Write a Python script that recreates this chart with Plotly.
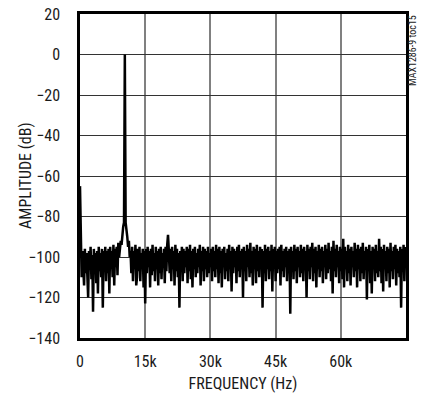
import plotly.graph_objects as go

bin_hz = 187.5
amplitude_db = [
    -65, -99, -110, -97, -107, -114, -96, -108, -98, -112, -120, -97, -106, -95, -111, -99, -127, -96, -108, -98,
    -113, -97, -118, -95, -107, -98, -110, -96, -125, -97, -105, -95, -112, -97, -108, -96, -118, -95, -106, -97,
    -110, -94, -114, -96, -105, -95, -109, -93, -100, -96, -92, -94, -88, -85, -83, 0, -83, -86, -90, -95,
    -92, -100, -97, -108, -95, -112, -97, -106, -94, -114, -110, -96, -107, -95, -112, -98, -105, -96, -115, -97,
    -123, -96, -108, -95, -105, -97, -115, -96, -109, -94, -107, -98, -112, -95, -106, -97, -114, -96, -108, -95,
    -111, -98, -105, -96, -113, -95, -107, -94, -89, -97, -108, -96, -112, -95, -106, -97, -114, -94, -107, -96,
    -110, -98, -125, -97, -106, -95, -112, -96, -108, -97, -105, -95, -113, -96, -107, -94, -111, -97, -115, -96,
    -106, -95, -110, -98, -108, -96, -105, -94, -114, -97, -107, -95, -112, -96, -106, -97, -110, -95, -108, -98,
    -105, -96, -112, -95, -107, -97, -110, -94, -106, -96, -113, -95, -108, -97, -115, -96, -105, -95, -111, -98,
    -107, -96, -112, -94, -106, -97, -117, -95, -108, -96, -105, -97, -113, -95, -107, -94, -110, -97, -106, -96,
    -120, -95, -107, -97, -112, -94, -105, -96, -110, -93, -108, -97, -114, -95, -106, -96, -113, -94, -107, -97,
    -110, -95, -105, -96, -125, -97, -108, -94, -112, -96, -106, -95, -111, -97, -107, -94, -117, -96, -105, -95,
    -112, -97, -108, -96, -106, -95, -114, -94, -107, -97, -110, -96, -105, -95, -112, -97, -108, -96, -128, -95,
    -106, -97, -111, -94, -107, -96, -113, -95, -105, -97, -110, -94, -108, -96, -112, -95, -106, -97, -120, -94,
    -107, -96, -111, -95, -105, -93, -112, -96, -108, -95, -115, -97, -106, -94, -110, -96, -107, -95, -113, -97,
    -105, -94, -111, -96, -108, -93, -106, -97, -112, -95, -118, -92, -107, -96, -110, -94, -105, -97, -113, -95,
    -107, -96, -111, -91, -115, -95, -106, -97, -112, -94, -108, -96, -114, -95, -105, -97, -110, -93, -107, -96,
    -115, -94, -106, -96, -112, -95, -108, -93, -111, -97, -105, -95, -121, -96, -107, -94, -113, -97, -118, -95,
    -106, -96, -112, -94, -108, -97, -110, -91, -107, -95, -113, -96, -117, -94, -106, -97, -112, -95, -108, -96,
    -115, -93, -107, -97, -111, -95, -106, -94, -114, -96, -108, -97, -110, -95, -125, -96, -107, -94, -112, -97,
    -95,
]
frequency_hz = [i * bin_hz for i in range(len(amplitude_db))]

x_tickvals = [0, 15000, 30000, 45000, 60000]
x_ticktext = ["0", "15k", "30k", "45k", "60k"]
y_tickvals = [20, 0, -20, -40, -60, -80, -100, -120, -140]

FONT = "Liberation Sans Narrow, Roboto Condensed, Arial Narrow, Liberation Sans, sans-serif"
TEXT = "#1a1a1a"

fig = go.Figure()
fig.add_trace(go.Scatter(
    x=frequency_hz, y=amplitude_db, mode="lines",
    line=dict(color="black", width=2.5), showlegend=False,
))

fig.update_layout(
    width=428, height=399,
    margin=dict(l=80, r=22, t=14, b=61),
    paper_bgcolor="white", plot_bgcolor="white",
    font=dict(family=FONT, size=16, color=TEXT),
    xaxis=dict(
        range=[0, 75000], tickvals=x_tickvals, ticktext=x_ticktext,
        showgrid=True, gridcolor="#808080", gridwidth=1.5,
        showline=True, linecolor="black", linewidth=2.5, mirror=True,
        ticks="outside", ticklen=7, tickcolor="rgba(0,0,0,0)",
        zeroline=False, automargin=False, ticklabeloverflow="allow",
        title=dict(text="FREQUENCY (Hz)", font=dict(size=16), standoff=8),
    ),
    yaxis=dict(
        range=[-140, 20], tickvals=y_tickvals,
        showgrid=True, gridcolor="#333333", gridwidth=1,
        showline=True, linecolor="black", linewidth=2.5, mirror=True,
        ticks="outside", ticklen=14, tickcolor="rgba(0,0,0,0)",
        zeroline=False, automargin=False, ticklabeloverflow="allow",
    ),
    annotations=[
        dict(
            text="AMPLITUDE (dB)", xref="paper", yref="paper",
            x=-0.169, y=0.5, xanchor="center", yanchor="middle",
            textangle=-90, showarrow=False, font=dict(size=16, color=TEXT),
        ),
        dict(
            text="MAX1286-9 toc15", xref="paper", yref="paper",
            x=1.0215, y=0.886, xanchor="center", yanchor="middle",
            textangle=-90, showarrow=False, font=dict(size=10, color="#222"),
        ),
    ],
)

fig.write_html(
    "out.html",
    config={"displayModeBar": False},
    post_script="document.body.style.margin='0';document.body.style.padding='0';",
)
